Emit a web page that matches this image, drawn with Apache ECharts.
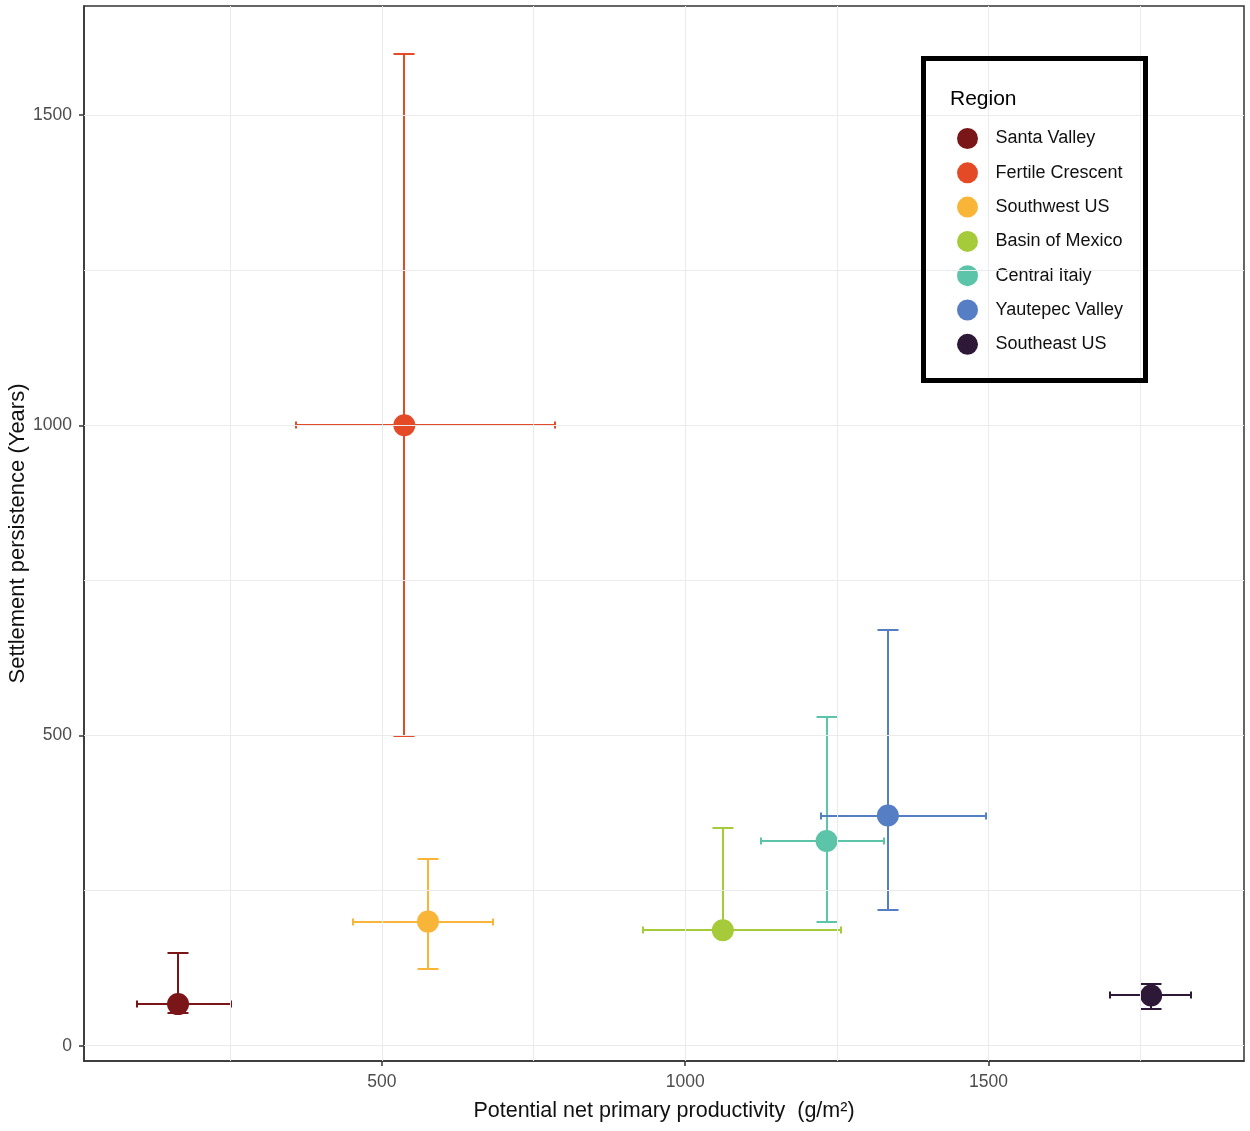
<!DOCTYPE html>
<html>
<head>
<meta charset="utf-8">
<title>Settlement persistence vs NPP</title>
<script src="https://cdn.jsdelivr.net/npm/echarts@6/dist/echarts.min.js"></script>
<style>
  html, body { margin: 0; padding: 0; background: #fff; }
  #chart { width: 1250px; height: 1131px; }
</style>
</head>
<body>
<div id="chart"></div>
<script>
  // data
  const regions = ['Santa Valley', 'Fertile Crescent', 'Southwest US', 'Basin of Mexico', 'Central Italy', 'Yautepec Valley', 'Southeast US'];
  const npp     = [164, 537, 576, 1062, 1233, 1334, 1768];
  const nppLow  = [96, 359, 452, 930, 1125, 1224, 1700];
  const nppHigh = [252, 785, 683, 1257, 1327, 1496, 1834];
  const years     = [67, 1000, 200, 186, 330, 371, 81];
  const yearsLow  = [52, 500, 124, 186, 200, 219, 59];
  const yearsHigh = [150, 1598, 301, 351, 530, 670, 100];
  const colors = ['#7a1518', '#e54a27', '#f9b538', '#a5cb3a', '#5cc4a8', '#567ec5', '#2e1838'];

  // axis ticks and grid lines
  const xTicks = [500, 1000, 1500];
  const yTicks = [0, 500, 1000, 1500];
  const xMinor = [250, 750, 1250, 1750];
  const yMinor = [250, 750, 1250];

  const FONT = '"Liberation Sans", Arial, sans-serif';

  const chart = echarts.init(document.getElementById('chart'));

  const gridLines = []
    .concat(xTicks.concat(xMinor).map(v => ({ xAxis: v })))
    .concat(yTicks.concat(yMinor).map(v => ({ yAxis: v })));

  // error bars: one custom series, every row is one region
  const barData = regions.map((r, i) => [npp[i], years[i], nppLow[i], nppHigh[i], yearsLow[i], yearsHigh[i], i]);

  const series = [
    {
      name: 'grid',
      type: 'line',
      data: [],
      z: 1,
      silent: true,
      markLine: {
        silent: true,
        symbol: ['none', 'none'],
        animation: false,
        label: { show: false },
        lineStyle: { color: '#ebebeb', width: 1, type: 'solid' },
        emphasis: { disabled: true },
        data: gridLines
      }
    },
    {
      name: 'errorbars',
      type: 'custom',
      z: 2,
      silent: true,
      encode: { x: [0, 2, 3], y: [1, 4, 5] },
      data: barData,
      renderItem: function (params, api) {
        const i = api.value(6);
        const c = colors[i];
        const style = { stroke: c, lineWidth: 2, fill: null };
        const r = p => [Math.round(p[0]), Math.round(p[1])];
        const ctr = r(api.coord([api.value(0), api.value(1)]));
        const xl = r(api.coord([api.value(2), api.value(1)]));
        const xr = r(api.coord([api.value(3), api.value(1)]));
        const yl = r(api.coord([api.value(0), api.value(4)]));
        const yh = r(api.coord([api.value(0), api.value(5)]));
        const cw = 10.5, ch = 3.5;
        const seg = (x1, y1, x2, y2) => ({ type: 'line', shape: { x1: x1, y1: y1, x2: x2, y2: y2 }, style: style });
        return {
          type: 'group',
          children: [
            seg(xl[0], ctr[1], xr[0], ctr[1]),
            seg(xl[0], ctr[1] - ch, xl[0], ctr[1] + ch),
            seg(xr[0], ctr[1] - ch, xr[0], ctr[1] + ch),
            seg(ctr[0], yl[1], ctr[0], yh[1]),
            seg(ctr[0] - cw, yl[1], ctr[0] + cw, yl[1]),
            seg(ctr[0] - cw, yh[1], ctr[0] + cw, yh[1])
          ]
        };
      }
    }
  ];

  regions.forEach((r, i) => {
    series.push({
      name: r,
      type: 'scatter',
      z: 3,
      symbol: 'circle',
      symbolSize: 22,
      itemStyle: { color: colors[i], opacity: 1 },
      data: [[npp[i], years[i]]]
    });
  });

  chart.setOption({
    animation: false,
    backgroundColor: '#fff',
    grid: {
      left: 84, right: 6, top: 6, bottom: 70,
      outerBoundsMode: 'none',
      containLabel: false,
      show: true,
      borderColor: '#333',
      borderWidth: 1.5,
      backgroundColor: '#fff'
    },
    xAxis: {
      type: 'value',
      min: 9,
      max: 1921,
      name: 'Potential net primary productivity  (g/m²)',
      nameLocation: 'middle',
      nameGap: 39,
      nameMoveOverlap: false,
      nameTextStyle: { fontFamily: FONT, fontSize: 21.5, color: '#111' },
      axisLine: { show: true, onZero: false, lineStyle: { color: '#333', width: 1.5 } },
      axisTick: { show: true, customValues: xTicks, length: 5, lineStyle: { color: '#333', width: 1.5 } },
      axisLabel: { customValues: xTicks, formatter: v => String(v), margin: 12, fontFamily: FONT, fontSize: 17.5, color: '#4d4d4d' },
      splitLine: { show: false }
    },
    yAxis: {
      type: 'value',
      min: -24.7,
      max: 1676,
      name: 'Settlement persistence (Years)',
      nameLocation: 'middle',
      nameGap: 55,
      nameMoveOverlap: false,
      nameTextStyle: { fontFamily: FONT, fontSize: 22, color: '#111' },
      axisLine: { show: true, onZero: false, lineStyle: { color: '#333', width: 1.5 } },
      axisTick: { show: true, customValues: yTicks, length: 5, lineStyle: { color: '#333', width: 1.5 } },
      axisLabel: { customValues: yTicks, formatter: v => String(v), margin: 12, fontFamily: FONT, fontSize: 17.5, color: '#4d4d4d' },
      splitLine: { show: false }
    },
    legend: {
      data: regions,
      orient: 'vertical',
      left: 952,
      top: 123,
      itemWidth: 46,
      itemHeight: 21,
      itemGap: 13.3,
      icon: 'circle',
      selectedMode: false,
      textStyle: { fontFamily: FONT, fontSize: 18, color: '#111' }
    },
    graphic: [
      {
        type: 'rect',
        left: 921,
        top: 56,
        z: 100,
        silent: true,
        shape: { width: 222, height: 322 },
        style: { fill: 'none', stroke: '#000', lineWidth: 5 }
      },
      {
        type: 'text',
        left: 950,
        top: 89,
        z: 100,
        silent: true,
        style: { text: 'Region', font: '21px ' + FONT, fill: '#000' }
      }
    ],
    series: series
  });
</script>
</body>
</html>
